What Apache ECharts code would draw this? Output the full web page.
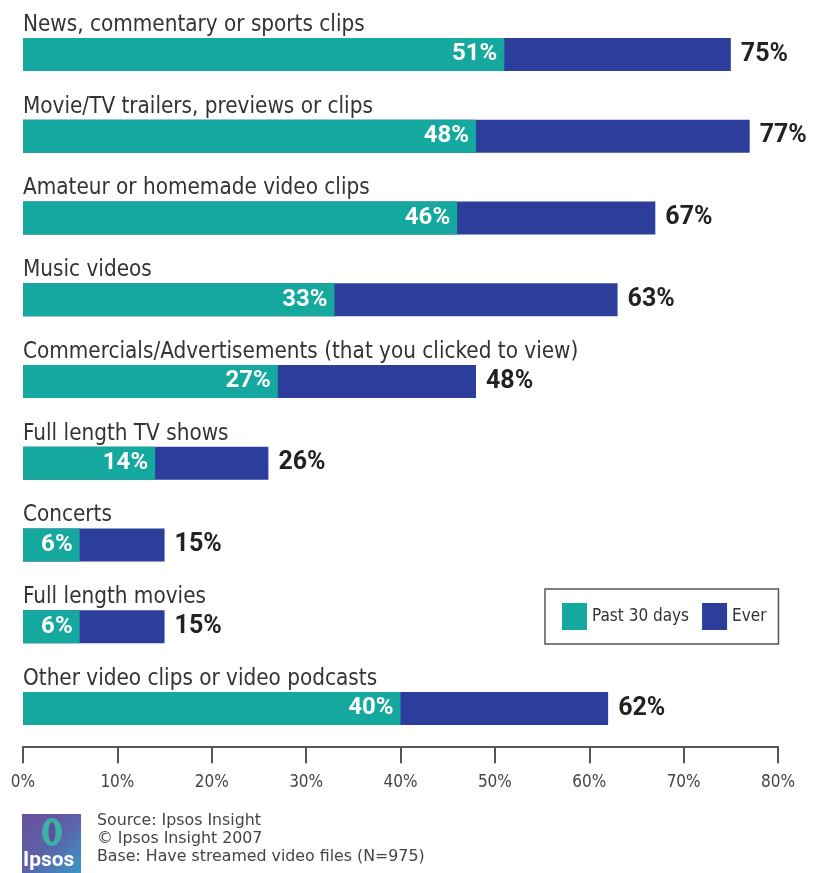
<!DOCTYPE html>
<html>
<head>
<meta charset="utf-8">
<script src="https://cdn.jsdelivr.net/npm/echarts@6/dist/echarts.min.js"></script>
<style>
  html, body { margin: 0; padding: 0; background: #ffffff; }
  #chart { width: 813px; height: 873px; }
</style>
</head>
<body>
<div id="chart"></div>
<script>
// ---- data ----
const categories = [
  "News, commentary or sports clips",
  "Movie/TV trailers, previews or clips",
  "Amateur or homemade video clips",
  "Music videos",
  "Commercials/Advertisements (that you clicked to view)",
  "Full length TV shows",
  "Concerts",
  "Full length movies",
  "Other video clips or video podcasts"
];
const past30Days = [51, 48, 46, 33, 27, 14, 6, 6, 40];
const ever = [75, 77, 67, 63, 48, 26, 15, 15, 62];
const seriesNames = ["Past 30 days", "Ever"];
const xTicks = [0, 10, 20, 30, 40, 50, 60, 70, 80];
const sourceLines = [
  "Source: Ipsos Insight",
  "\u00A9 Ipsos Insight 2007",
  "Base: Have streamed video files (N=975)"
];

const TEAL = "#14a89e";
const NAVY = "#2c3d9c";
const CAT_FONT = "'Liberation Sans Narrow', 'DejaVu Sans Condensed', Roboto, sans-serif";

const chart = echarts.init(document.getElementById("chart"), null, { renderer: "canvas" });

const footerGraphics = [
  {
    type: "rect",
    left: 22, top: 814,
    shape: { width: 59, height: 59 },
    style: {
      fill: new echarts.graphic.LinearGradient(0, 0, 1, 1, [
        { offset: 0, color: "#6b4e9c" },
        { offset: 0.5, color: "#5c62aa" },
        { offset: 1, color: "#3a98c4" }
      ])
    }
  },
  {
    type: "ellipse",
    shape: { cx: 52, cy: 832, rx: 10, ry: 14 },
    style: { fill: "#3cb0a6" }
  },
  {
    type: "ellipse",
    shape: { cx: 52, cy: 832, rx: 3.5, ry: 10 },
    style: { fill: "#5f4f9c" }
  },
  {
    type: "text",
    left: 23, top: 850,
    style: {
      text: "Ipsos",
      fill: "#ffffff",
      font: "bold 21px 'Liberation Sans Narrow', Roboto, sans-serif"
    }
  }
];
sourceLines.forEach(function (line, i) {
  footerGraphics.push({
    type: "text",
    left: 97, top: 813 + i * 18,
    style: {
      text: line,
      fill: "#444444",
      font: "15.8px 'DejaVu Sans', sans-serif"
    }
  });
});

const option = {
  backgroundColor: "#ffffff",
  animation: false,
  grid: {
    left: 23,
    right: 813 - 778,
    top: 13.6,
    bottom: 123.65,
    containLabel: false,
    outerBoundsMode: "none"
  },
  legend: {
    data: seriesNames,
    left: 545,
    top: 589,
    orient: "horizontal",
    padding: [14, 12, 14, 17],
    itemGap: 13,
    itemWidth: 25,
    itemHeight: 27,
    borderColor: "#555555",
    borderWidth: 1.5,
    borderRadius: 0,
    icon: "rect",
    textStyle: {
      fontSize: 17,
      color: "#333333",
      fontFamily: CAT_FONT
    }
  },
  xAxis: {
    type: "value",
    min: xTicks[0],
    max: xTicks[xTicks.length - 1],
    interval: xTicks[1] - xTicks[0],
    position: "bottom",
    offset: -3,
    axisLine: { show: true, lineStyle: { color: "#555555", width: 2 } },
    axisTick: { show: true, length: 17, lineStyle: { color: "#555555", width: 2 } },
    splitLine: { show: false },
    axisLabel: {
      formatter: "{value}%",
      color: "#444444",
      fontSize: 17,
      margin: 28,
      showMinLabel: true,
      showMaxLabel: true,
      fontFamily: CAT_FONT
    }
  },
  yAxis: {
    type: "category",
    data: categories,
    inverse: true,
    axisLine: { show: false },
    axisTick: { show: false },
    splitLine: { show: false },
    axisLabel: {
      inside: true,
      margin: 0,
      interval: 0,
      showMinLabel: true,
      showMaxLabel: true,
      hideOverlap: false,
      color: "#333333",
      fontSize: 22.3,
      lineHeight: 59,
      fontFamily: CAT_FONT,
      verticalAlign: "middle",
      formatter: function (v) { return v + "\n "; }
    },
    z: 10
  },
  series: [
    {
      name: seriesNames[1],
      type: "bar",
      data: ever,
      barWidth: 33,
      barGap: "-100%",
      itemStyle: { color: NAVY },
      label: {
        show: true,
        position: "right",
        distance: 10,
        formatter: "{c}%",
        color: "#222222",
        fontSize: 25,
        fontWeight: "bold",
        fontFamily: "Roboto, sans-serif"
      },
      z: 2
    },
    {
      name: seriesNames[0],
      type: "bar",
      data: past30Days,
      barWidth: 33,
      barGap: "-100%",
      itemStyle: { color: TEAL },
      label: {
        show: true,
        position: "insideRight",
        distance: 7,
        formatter: "{c}%",
        color: "#ffffff",
        fontSize: 24,
        fontWeight: "bold",
        fontFamily: "Roboto, sans-serif"
      },
      z: 3
    }
  ],
  graphic: footerGraphics
};

chart.setOption(option);
</script>
</body>
</html>
